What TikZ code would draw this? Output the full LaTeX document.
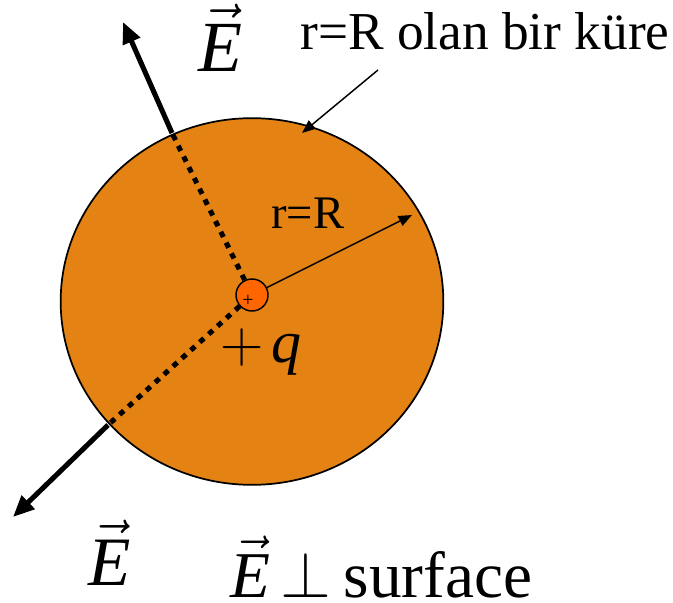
\RequirePackage{fix-cm}
\documentclass[tikz,border=0pt]{standalone}
\usepackage{fontspec}
\setmainfont{Liberation Serif}
\usetikzlibrary{arrows.meta,shapes.geometric}
\definecolor{sphere}{RGB}{228,131,20}
\definecolor{charge}{RGB}{255,102,0}
\newcommand{\vecE}{$\vec{\textit{E}}$}
\tikzset{
  thick arrow/.style={line width=3.8pt,-{Triangle[length=16pt,width=13.5pt]}},
  thin arrow/.style={line width=1.1pt,-{Triangle[length=10pt,width=8pt]}},
  dotline/.style={line width=3.8pt,dash pattern=on 4.3pt off 4.7pt},
  lbl/.style={inner sep=0pt,anchor=base west},
}
\begin{document}
\begin{tikzpicture}[x=0.75pt,y=-0.75pt]
\useasboundingbox (0,0) rectangle (673,602);
\node[ellipse,draw=black,line width=1.3pt,fill=sphere,inner sep=0pt,
      minimum width=287pt,minimum height=275pt] (sph) at (252,301.5) {};
\coordinate (btop) at (172,133);
\coordinate (ttop) at (123,22);
\coordinate (bbot) at (108,425);
\coordinate (tbot) at (13,517);
\coordinate (rtip) at (412,215);
\coordinate (lstart) at (378,70);
\coordinate (lend) at (302,133);
\node[circle,draw=black,line width=1.1pt,fill=charge,minimum size=24pt,inner sep=0pt] (q) at (252,295) {};
\node[inner sep=0pt,font=\fontsize{15}{15}\selectfont] (plus) at (248,301) {+};
\draw[dotline] (q) -- (btop);
\draw[dotline] (q) -- (bbot);
\draw[thick arrow] (btop) -- (ttop);
\draw[thick arrow] (bbot) -- (tbot);
\draw[thin arrow] (q) -- (rtip);
\draw[thin arrow] (lstart) -- (lend);
\node[lbl,font=\fontsize{40}{40}\selectfont] (title) at (300,50) {r=R olan bir küre};
\node[lbl,font=\fontsize{35}{35}\selectfont] (rR) at (271,228) {r=R};
\node[lbl,font=\fontsize{45}{45}\selectfont] (qlab) at (220,362) {$+$\hspace{6pt}\textit{q}};
\node[lbl,font=\fontsize{54}{54}\selectfont] (Etop) at (198,72) {\vecE};
\node[lbl,font=\fontsize{52}{52}\selectfont] (Ebot) at (88,585) {\vecE};
\node[lbl,font=\fontsize{49}{49}\selectfont] (Eperp) at (230,597) {\vecE\hspace{8pt}$\perp$\hspace{9pt}surface};
\end{tikzpicture}
\end{document}
